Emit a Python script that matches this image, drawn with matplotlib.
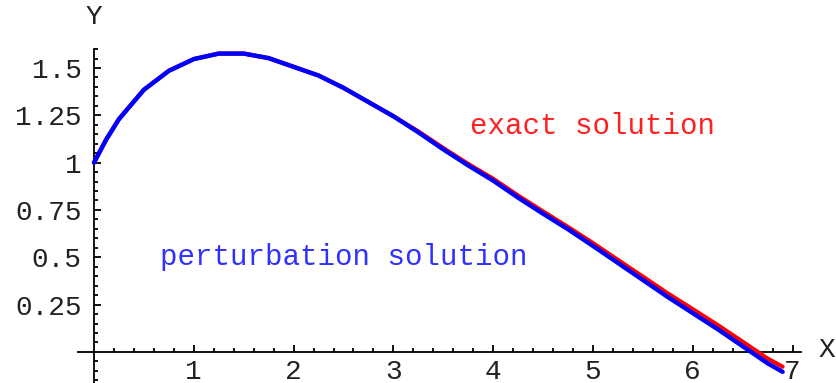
import matplotlib
matplotlib.use("Agg")
import matplotlib.pyplot as plt
from matplotlib.ticker import FixedLocator, FixedFormatter

# 資料
x_vals = [0, 0.12, 0.25, 0.5, 0.75, 1.0, 1.25, 1.5, 1.75, 2.0, 2.25, 2.5, 2.75,
          3.0, 3.25, 3.5, 3.75, 4.0, 4.25, 4.5, 4.75, 5.0, 5.25, 5.5, 5.75,
          6.0, 6.25, 6.5, 6.75, 6.9]
y_perturb = [1.0, 1.12, 1.23, 1.385, 1.485, 1.547, 1.576, 1.576, 1.552, 1.506, 1.46,
             1.395, 1.32, 1.245, 1.16, 1.07, 0.985, 0.905, 0.815, 0.73, 0.648,
             0.56, 0.47, 0.38, 0.29, 0.205, 0.12, 0.03, -0.06, -0.105]
y_exact = [1.0, 1.12, 1.23, 1.385, 1.485, 1.547, 1.576, 1.576, 1.552, 1.506, 1.46,
           1.395, 1.32, 1.245, 1.165, 1.077, 0.993, 0.915, 0.826, 0.742, 0.66,
           0.575, 0.486, 0.398, 0.309, 0.226, 0.142, 0.054, -0.035, -0.078]

x_major = [1, 2, 3, 4, 5, 6, 7]
x_labels = ["1", "2", "3", "4", "5", "6", "7"]
y_major = [0.25, 0.5, 0.75, 1.0, 1.25, 1.5]
y_labels = ["0.25", "0.5", "0.75", "1", "1.25", "1.5"]

mono = "Liberation Mono"
fs = 20
txt_color = "#222222"

fig = plt.figure(figsize=(8.36, 3.83), dpi=100)
ax = fig.add_axes([0, 0, 1, 1])
ax.set_xlim(-0.942, 7.435)
ax.set_ylim(-0.164, 1.859)

ax.plot(x_vals, y_exact, color="red", lw=3.0, solid_capstyle="round", zorder=3)
ax.plot(x_vals, y_perturb, color="blue", lw=3.2, solid_capstyle="round", zorder=4)

# 座標軸穿過原點
for s in ["top", "right"]:
    ax.spines[s].set_visible(False)
ax.spines["left"].set_position(("data", 0))
ax.spines["bottom"].set_position(("data", 0))
ax.spines["left"].set_bounds(-0.164, 1.6)
ax.spines["bottom"].set_bounds(-0.16, 7.08)
for s in ["left", "bottom"]:
    ax.spines[s].set_linewidth(1.3)
    ax.spines[s].set_color("black")

ax.xaxis.set_major_locator(FixedLocator(x_major))
ax.xaxis.set_major_formatter(FixedFormatter(x_labels))
ax.xaxis.set_minor_locator(FixedLocator([i * 0.2 for i in range(1, 36) if i % 5 != 0]))
ax.yaxis.set_major_locator(FixedLocator(y_major))
ax.yaxis.set_major_formatter(FixedFormatter(y_labels))
ax.yaxis.set_minor_locator(FixedLocator([round(-0.15 + i * 0.05, 2) for i in range(36)
                                         if round(-0.15 + i * 0.05, 2) not in y_major
                                         and abs(-0.15 + i * 0.05) > 1e-9]))

ax.tick_params(which="both", direction="in", width=1.3, color="black")
ax.tick_params(which="major", length=5)
ax.tick_params(which="minor", length=3)
ax.tick_params(axis="x", which="major", pad=5, labelsize=fs, labelcolor=txt_color)
ax.tick_params(axis="y", which="major", pad=9, labelsize=fs, labelcolor=txt_color)
for lab in ax.get_xticklabels() + ax.get_yticklabels():
    lab.set_family(mono)

ax.text(0, 1.77, "Y", ha="center", va="center", fontsize=fs, family=mono, color=txt_color)
ax.text(7.34, 0.01, "X", ha="center", va="center", fontsize=fs, family=mono, color=txt_color)

ax.text(3.77, 1.194, "exact solution", ha="left", va="center", fontsize=21,
        family=mono, color="#ff2020")
ax.text(0.66, 0.50, "perturbation solution", ha="left", va="center", fontsize=21,
        family=mono, color="#3030ff")

fig.savefig("out.png", dpi=100)
